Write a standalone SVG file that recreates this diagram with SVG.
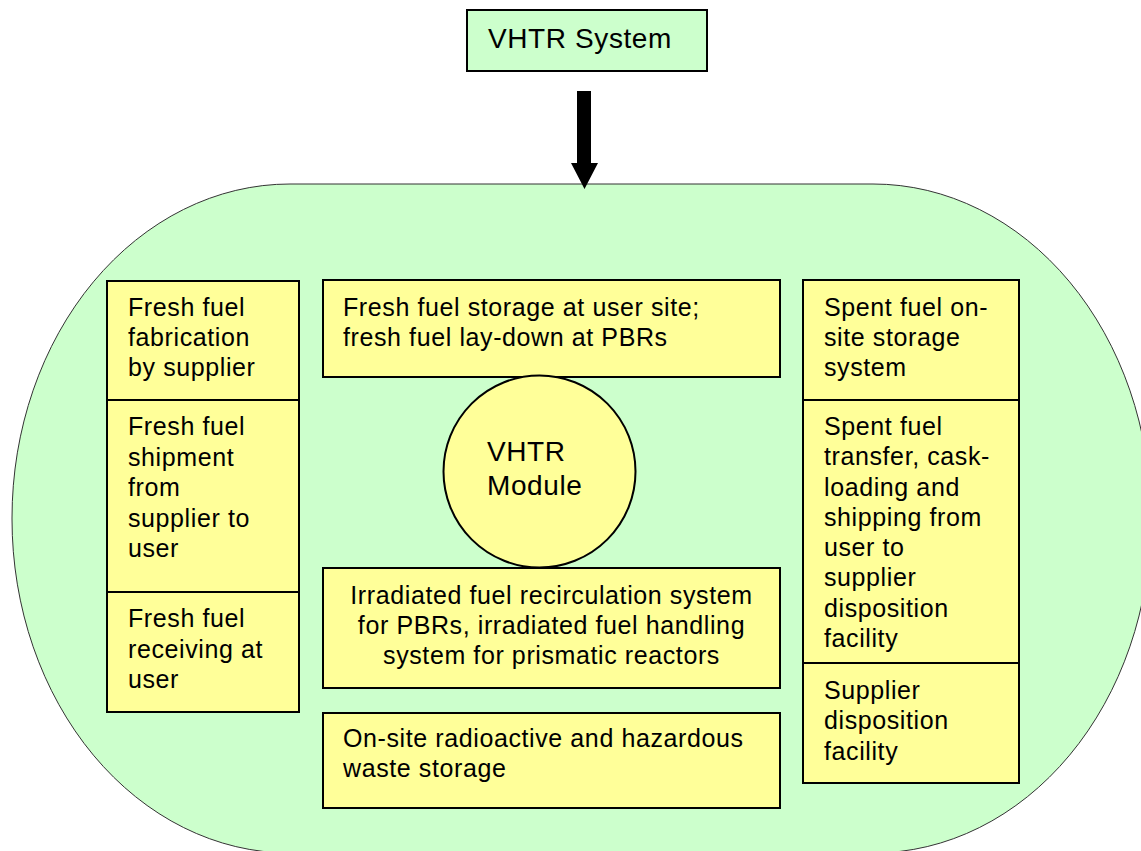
<svg xmlns="http://www.w3.org/2000/svg" width="1141" height="851" viewBox="0 0 1141 851">
<style>
.box{fill:#FFFF99;stroke:#000;stroke-width:2}
.green{fill:#CCFFCC;stroke:#000;stroke-width:2}
.t{font-family:"Liberation Sans",Arial,sans-serif;font-size:25px;letter-spacing:0.6px;fill:#000}
.h{font-family:"Liberation Sans",Arial,sans-serif;font-size:28px;letter-spacing:0.6px;fill:#000}
.c{text-anchor:middle}
</style>
<rect width="1141" height="851" fill="#fff"/>
<g id="boundary">
<rect x="12" y="184" width="1139" height="669" rx="278" ry="334" fill="#CCFFCC" stroke="#333" stroke-width="1"/>
</g>
<g id="vhtr-system">
<rect class="green" x="467" y="10" width="240" height="61"/>
<text class="h" x="488" y="48">VHTR System</text>
</g>
<g id="connectors">
<polygon points="577,91 591,91 591,163 598,163 584.5,189 571,163 577,163" fill="#000"/>
</g>
<g id="fresh-fabrication">
<rect class="box" x="107" y="281" width="192" height="119"/>
<text class="t" x="128" y="316">Fresh fuel</text>
<text class="t" x="128" y="346">fabrication</text>
<text class="t" x="128" y="376">by supplier</text>
</g>
<g id="fresh-shipment">
<rect class="box" x="107" y="400" width="192" height="192"/>
<text class="t" x="128" y="435">Fresh fuel</text>
<text class="t" x="128" y="466">shipment</text>
<text class="t" x="128" y="496">from</text>
<text class="t" x="128" y="527">supplier to</text>
<text class="t" x="128" y="557">user</text>
</g>
<g id="fresh-receiving">
<rect class="box" x="107" y="592" width="192" height="120"/>
<text class="t" x="128" y="627">Fresh fuel</text>
<text class="t" x="128" y="658">receiving at</text>
<text class="t" x="128" y="688">user</text>
</g>
<g id="fresh-storage">
<rect class="box" x="323" y="280" width="457" height="97"/>
<text class="t" x="343" y="316">Fresh fuel storage at user site;</text>
<text class="t" x="343" y="346">fresh fuel lay-down at PBRs</text>
</g>
<g id="vhtr-module">
<circle cx="539.5" cy="471.5" r="96" fill="#FFFF99" stroke="#000" stroke-width="2"/>
<text class="h" x="487" y="461">VHTR</text>
<text class="h" x="487" y="495">Module</text>
</g>
<g id="irradiated">
<rect class="box" x="323" y="568" width="457" height="120"/>
<text class="t c" x="551.5" y="604">Irradiated fuel recirculation system</text>
<text class="t c" x="551.5" y="634">for PBRs, irradiated fuel handling</text>
<text class="t c" x="551.5" y="664">system for prismatic reactors</text>
</g>
<g id="waste-storage">
<rect class="box" x="323" y="713" width="457" height="95"/>
<text class="t" x="343" y="747">On-site radioactive and hazardous</text>
<text class="t" x="343" y="777">waste storage</text>
</g>
<g id="spent-onsite">
<rect class="box" x="803" y="280" width="216" height="120"/>
<text class="t" x="824" y="316">Spent fuel on-</text>
<text class="t" x="824" y="346">site storage</text>
<text class="t" x="824" y="376">system</text>
</g>
<g id="spent-transfer">
<rect class="box" x="803" y="400" width="216" height="263"/>
<text class="t" x="824" y="435">Spent fuel</text>
<text class="t" x="824" y="465">transfer, cask-</text>
<text class="t" x="824" y="496">loading and</text>
<text class="t" x="824" y="526">shipping from</text>
<text class="t" x="824" y="556">user to</text>
<text class="t" x="824" y="586">supplier</text>
<text class="t" x="824" y="617">disposition</text>
<text class="t" x="824" y="647">facility</text>
</g>
<g id="supplier-disposition">
<rect class="box" x="803" y="663" width="216" height="120"/>
<text class="t" x="824" y="699">Supplier</text>
<text class="t" x="824" y="729">disposition</text>
<text class="t" x="824" y="760">facility</text>
</g>
</svg>
